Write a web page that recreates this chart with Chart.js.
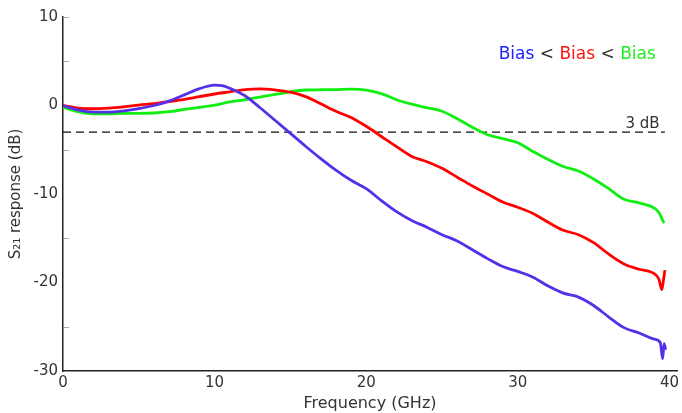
<!DOCTYPE html>
<html>
<head>
<meta charset="utf-8">
<script src="https://cdn.jsdelivr.net/npm/chart.js@4/dist/chart.umd.min.js"></script>
<style>
  html, body { margin: 0; padding: 0; background: #fff; }
</style>
</head>
<body>
<canvas id="chart" width="682" height="413"></canvas>
<script>
// S21 response vs frequency, three bias levels
const freqBlue = [0,1,2,3,4,5,6,7,8,9,10,10.5,11,12,13,14,15,16,17,18,19,20,21,22,23,24,25,26,27,28,29,30,31,32,33,34,35,36,37,38,39,39.4,39.55,39.65,39.75];
const s21Blue = [0,-0.5,-0.75,-0.75,-0.6,-0.35,0,0.5,1.2,1.9,2.3,2.25,1.95,1.1,-0.25,-1.7,-3.15,-4.6,-6.0,-7.3,-8.45,-9.4,-10.75,-12.0,-13.0,-13.75,-14.6,-15.3,-16.3,-17.3,-18.2,-18.75,-19.4,-20.4,-21.2,-21.65,-22.6,-23.9,-25.1,-25.7,-26.4,-26.8,-28.6,-26.9,-27.6];

const freqRed = [0,1,2,3,4,5,6,7,8,9,10,11,12,13,14,15,16,17,18,19,20,21,22,23,24,25,26,27,28,29,30,31,32,33,34,35,36,37,38,39,39.3,39.5,39.6,39.7];
const s21Red = [0,-0.3,-0.37,-0.3,-0.15,0.05,0.22,0.45,0.7,1.0,1.3,1.55,1.8,1.88,1.75,1.5,1.0,0.2,-0.65,-1.35,-2.35,-3.5,-4.65,-5.75,-6.35,-7.1,-8.1,-9.1,-10.0,-10.9,-11.5,-12.2,-13.2,-14.1,-14.6,-15.5,-16.8,-17.9,-18.5,-19.0,-19.6,-20.8,-19.8,-18.6];

const freqGreen = [0,1,2,3,4,5,6,7,8,9,10,11,12,13,14,15,16,17,18,19,20,21,22,23,24,25,26,27,28,29,30,31,32,33,34,35,36,37,38,39,39.3,39.65];
const s21Green = [-0.2,-0.7,-0.95,-0.95,-0.9,-0.9,-0.85,-0.7,-0.45,-0.2,0.05,0.4,0.65,0.95,1.25,1.55,1.75,1.78,1.8,1.85,1.75,1.35,0.65,0.15,-0.25,-0.65,-1.5,-2.45,-3.3,-3.75,-4.2,-5.2,-6.1,-6.9,-7.4,-8.3,-9.4,-10.6,-11.0,-11.6,-12.1,-13.3];

const cutoffDb = -3;
const cutoffSpan = [0, 39.7];
const xTicks = [0, 10, 20, 30, 40];
const yMinorTicks = [10, 5, -5, -15, -25];

const lineColors = ['#5530E8', '#FF0000', '#11EE11'];
const legendColors = ['#1E1EFF', '#FF1414', '#1EEE1E'];
const FONT = '"DejaVu Sans", Verdana, sans-serif';

function toPoints(xs, ys) {
    return xs.map((x, i) => ({ x: x, y: ys[i] }));
}

function curve(xs, ys, color) {
    return {
        data: toPoints(xs, ys),
        borderColor: color,
        borderWidth: 2.8,
        pointRadius: 0,
        cubicInterpolationMode: 'monotone',
        fill: false
    };
}

// minor ticks inside the axis + the text labels
const extras = {
    id: 'extras',
    beforeDatasetsDraw(chart) {
        const { ctx, scales: { x, y } } = chart;
        ctx.save();
        ctx.strokeStyle = '#aaaaaa';
        ctx.lineWidth = 1;
        yMinorTicks.forEach(v => {
            const py = Math.round(y.getPixelForValue(v)) + 0.5;
            ctx.beginPath();
            ctx.moveTo(x.left, py);
            ctx.lineTo(x.left + 6, py);
            ctx.stroke();
        });
        ctx.restore();
    },
    afterDatasetsDraw(chart) {
        const { ctx, scales: { x, y } } = chart;
        ctx.save();
        // 3 dB label
        ctx.font = '15px ' + FONT;
        ctx.fillStyle = '#333';
        ctx.textAlign = 'right';
        ctx.textBaseline = 'middle';
        ctx.fillText('3 dB', x.getPixelForValue(39.35), y.getPixelForValue(-2.1));

        // "Bias < Bias < Bias"
        const parts = ['Bias', ' < ', 'Bias', ' < ', 'Bias'];
        const cols = [legendColors[0], '#333', legendColors[1], '#333', legendColors[2]];
        ctx.font = '17px ' + FONT;
        ctx.textAlign = 'left';
        let total = 0;
        parts.forEach(p => total += ctx.measureText(p).width);
        let px = x.getPixelForValue(39.1) - total;
        const py = y.getPixelForValue(5.8);
        parts.forEach((p, i) => {
            ctx.fillStyle = cols[i];
            ctx.fillText(p, px, py);
            px += ctx.measureText(p).width;
        });
        ctx.restore();
    }
};

new Chart(document.getElementById('chart'), {
    type: 'line',
    data: {
        datasets: [
            curve(freqBlue, s21Blue, lineColors[0]),
            curve(freqRed, s21Red, lineColors[1]),
            curve(freqGreen, s21Green, lineColors[2]),
            {
                data: cutoffSpan.map(f => ({ x: f, y: cutoffDb })),
                borderColor: '#111',
                borderWidth: 1.3,
                borderDash: [8, 5],
                pointRadius: 0,
                fill: false
            }
        ]
    },
    options: {
        responsive: false,
        animation: false,
        devicePixelRatio: 1,
        layout: { padding: { top: 17, right: 2, left: 0, bottom: 0 } },
        plugins: {
            legend: { display: false },
            tooltip: { enabled: false }
        },
        scales: {
            x: {
                type: 'linear',
                min: 0,
                max: 40.5,
                afterFit: s => { s.height = 42; },
                afterBuildTicks: s => { s.ticks = xTicks.map(v => ({ value: v })); },
                grid: { display: false, drawTicks: false },
                border: { display: true, color: '#222', width: 1.5 },
                ticks: {
                    padding: 3,
                    color: '#333',
                    font: { family: FONT, size: 15 },
                    maxRotation: 0
                },
                title: {
                    display: true,
                    text: 'Frequency (GHz)',
                    color: '#333',
                    font: { family: FONT, size: 16 },
                    padding: { top: 0, bottom: 0 }
                }
            },
            y: {
                min: -30,
                max: 10,
                afterFit: s => { s.width = 63; },
                grid: { display: false, drawTicks: false },
                border: { display: true, color: '#222', width: 1.5 },
                ticks: {
                    stepSize: 10,
                    padding: 5,
                    color: '#333',
                    font: { family: FONT, size: 15 },
                    callback: v => String(v)
                },
                title: {
                    display: true,
                    text: 'S\u2082\u2081 response (dB)',
                    color: '#333',
                    font: { family: FONT, size: 15 },
                    padding: { top: 7, bottom: 0 }
                }
            }
        }
    },
    plugins: [extras]
});
</script>
</body>
</html>
